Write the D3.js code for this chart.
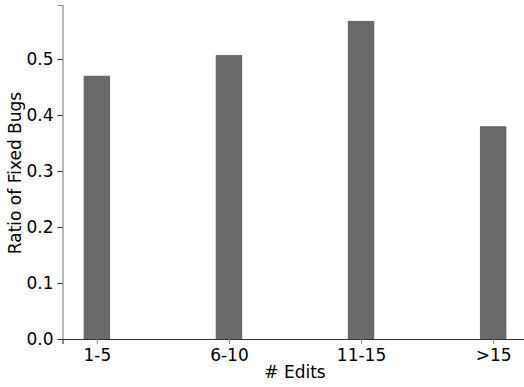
<!DOCTYPE html>
<html>

<head>
	<title>Ratio of Fixed Bugs</title>
	<style>
		body {
			margin: 0;
			background: #fff;
		}
		text {
			font-family: "DejaVu Sans";
		}
	</style>
</head>

<body>
	<script src="https://d3js.org/d3.v7.min.js"></script>
	<script type="text/javascript">
		var categories = ["1-5", "6-10", "11-15", ">15"];
		var ratios = [0.47, 0.507, 0.568, 0.38];
		var yTicks = [0.0, 0.1, 0.2, 0.3, 0.4, 0.5];

		var width = 524;
		var height = 387;
		var plotLeft = 62.5;
		var plotRight = 527.5;
		var plotTop = 5;
		var plotBottom = 339;
		var fontSize = "17px";

		var svg = d3.select("body").append("svg")
			.attr("width", width)
			.attr("height", height);

		// bar positions 0..3, width 0.2, matplotlib-style margins
		var x = d3.scaleLinear().domain([-0.26, 3.26]).range([plotLeft, plotRight]);
		var y = d3.scaleLinear().domain([0, 0.5964]).range([plotBottom, plotTop]);
		var barW = 0.2;

		svg.selectAll(".bar")
			.data(ratios)
			.enter().append("rect")
			.attr("class", "bar")
			.attr("x", function(d, i) { return x(i - barW / 2); })
			.attr("width", function(d, i) { return x(i + barW / 2) - x(i - barW / 2); })
			.attr("y", function(d) { return y(d); })
			.attr("height", function(d) { return plotBottom - y(d); })
			.style("fill", "#696969");

		// y axis
		var yAxis = d3.axisLeft(y)
			.tickValues(yTicks)
			.tickFormat(d3.format(".1f"))
			.tickSize(5)
			.tickPadding(4);
		var gy = svg.append("g")
			.attr("transform", "translate(" + plotLeft + ",0)")
			.call(yAxis);
		gy.select(".domain").attr("stroke", "#888").attr("stroke-width", 1.2);
		gy.selectAll(".tick line").attr("stroke", "#333");
		gy.selectAll(".tick text")
			.attr("fill", "#000")
			.style("font-size", fontSize)
			.style("font-family", "DejaVu Sans");

		// x axis
		var xAxis = d3.axisBottom(x)
			.tickValues(d3.range(categories.length))
			.tickFormat(function(i) { return categories[i]; })
			.tickSize(5)
			.tickPadding(5);
		var gx = svg.append("g")
			.attr("transform", "translate(0," + plotBottom + ")")
			.call(xAxis);
		gx.select(".domain").attr("stroke", "#333").attr("stroke-width", 1.2);
		gx.selectAll(".tick line").attr("stroke", "#888");
		gx.selectAll(".tick text")
			.attr("fill", "#000")
			.style("font-size", fontSize)
			.style("font-family", "DejaVu Sans");

		// axis labels
		svg.append("text")
			.attr("x", (plotLeft + plotRight) / 2)
			.attr("y", 378)
			.attr("text-anchor", "middle")
			.style("font-size", fontSize)
			.text("# Edits");

		svg.append("text")
			.attr("transform", "translate(20.5,173) rotate(-90)")
			.attr("text-anchor", "middle")
			.style("font-size", fontSize)
			.text("Ratio of Fixed Bugs");
	</script>
</body>

</html>
